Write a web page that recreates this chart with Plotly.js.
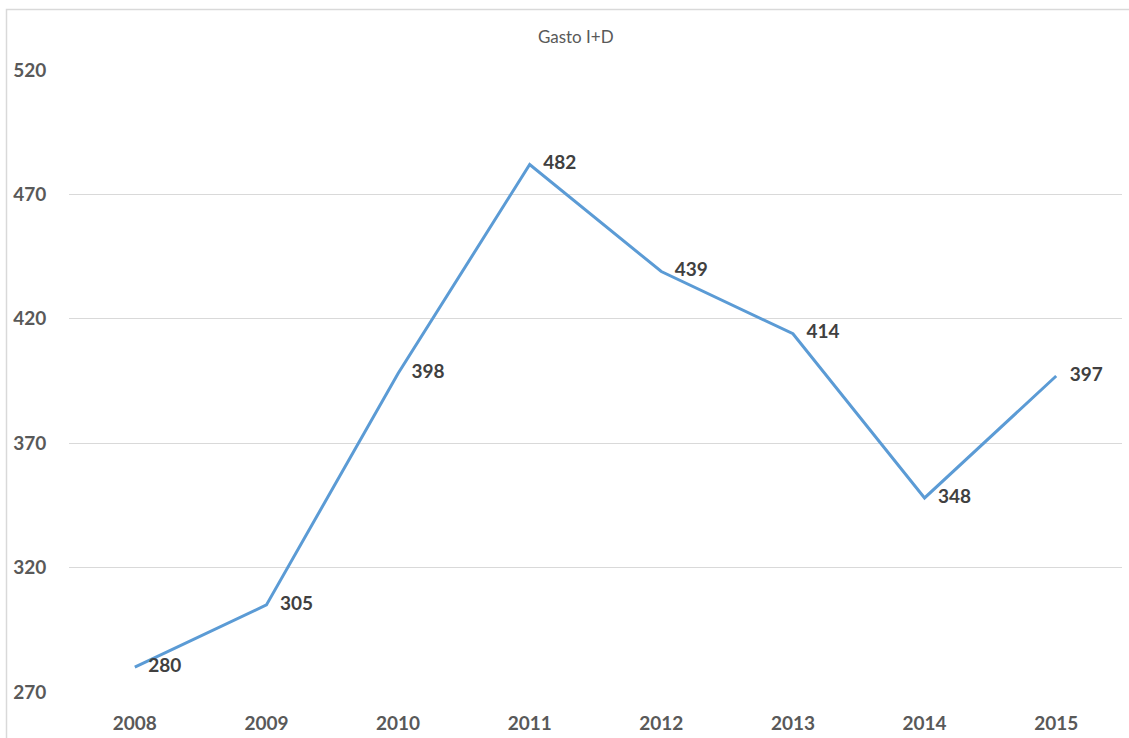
<!DOCTYPE html>
<html>
<head>
<meta charset="utf-8">
<script src="https://cdn.plot.ly/plotly-3.0.1.min.js"></script>
<style>html,body{margin:0;padding:0;background:#fff;}#chart{width:1129px;height:738px;}</style>
</head>
<body>
<div id="chart"></div>
<script>
const years = ['2008','2009','2010','2011','2012','2013','2014','2015'];
const gasto = [280, 305, 398, 482, 439, 414, 348, 397];
const yTicks = [270, 320, 370, 420, 470, 520];

const L = 69, R = 1122, T = 70, B = 692;
const pw = R - L, ph = B - T;

const trace = {
  x: years, y: gasto, type: 'scatter', mode: 'lines+markers+text',
  line: {color: '#5B9BD5', width: 3},
  marker: {size: 20, color: 'rgba(0,0,0,0)'},
  text: gasto.map(String), textposition: 'middle right',
  textfont: {family: 'Lato, sans-serif', size: 19, color: '#404040', weight: 'bold'},
  cliponaxis: false, hoverinfo: 'none'
};

const layout = {
  width: 1129, height: 738,
  margin: {l: L, r: 1129 - R, t: T, b: 738 - B},
  paper_bgcolor: '#fff', plot_bgcolor: '#fff',
  showlegend: false,
  title: {text: 'Gasto I+D', x: 0.51, xanchor: 'center', y: 1 - 37/738, yanchor: 'middle',
    font: {family: 'Lato, sans-serif', size: 17, color: '#595959'}},
  xaxis: {type: 'category', range: [-0.5, 7.5], showgrid: false, zeroline: false, showline: false,
    ticks: 'outside', ticklen: 14, tickcolor: 'rgba(0,0,0,0)',
    tickfont: {family: 'Lato, sans-serif', size: 19, color: '#595959', weight: 'bold'}},
  yaxis: {range: [270, 520], tickvals: yTicks, showgrid: true, gridcolor: '#d9d9d9', gridwidth: 1,
    zeroline: false, showline: false, ticks: 'outside', ticklen: 18, tickcolor: 'rgba(0,0,0,0)',
    tickfont: {family: 'Lato, sans-serif', size: 19, color: '#595959', weight: 'bold'}},
  shapes: [{type: 'rect', xref: 'paper', yref: 'paper',
    x0: (6.5 - L)/pw, x1: (1135 - L)/pw, y0: (B - 745)/ph, y1: (B - 9.5)/ph,
    line: {color: '#d9d9d9', width: 1.5}, fillcolor: 'rgba(0,0,0,0)', layer: 'below'}]
};

Plotly.newPlot('chart', [trace], layout, {displayModeBar: false, staticPlot: true});
</script>
</body>
</html>
